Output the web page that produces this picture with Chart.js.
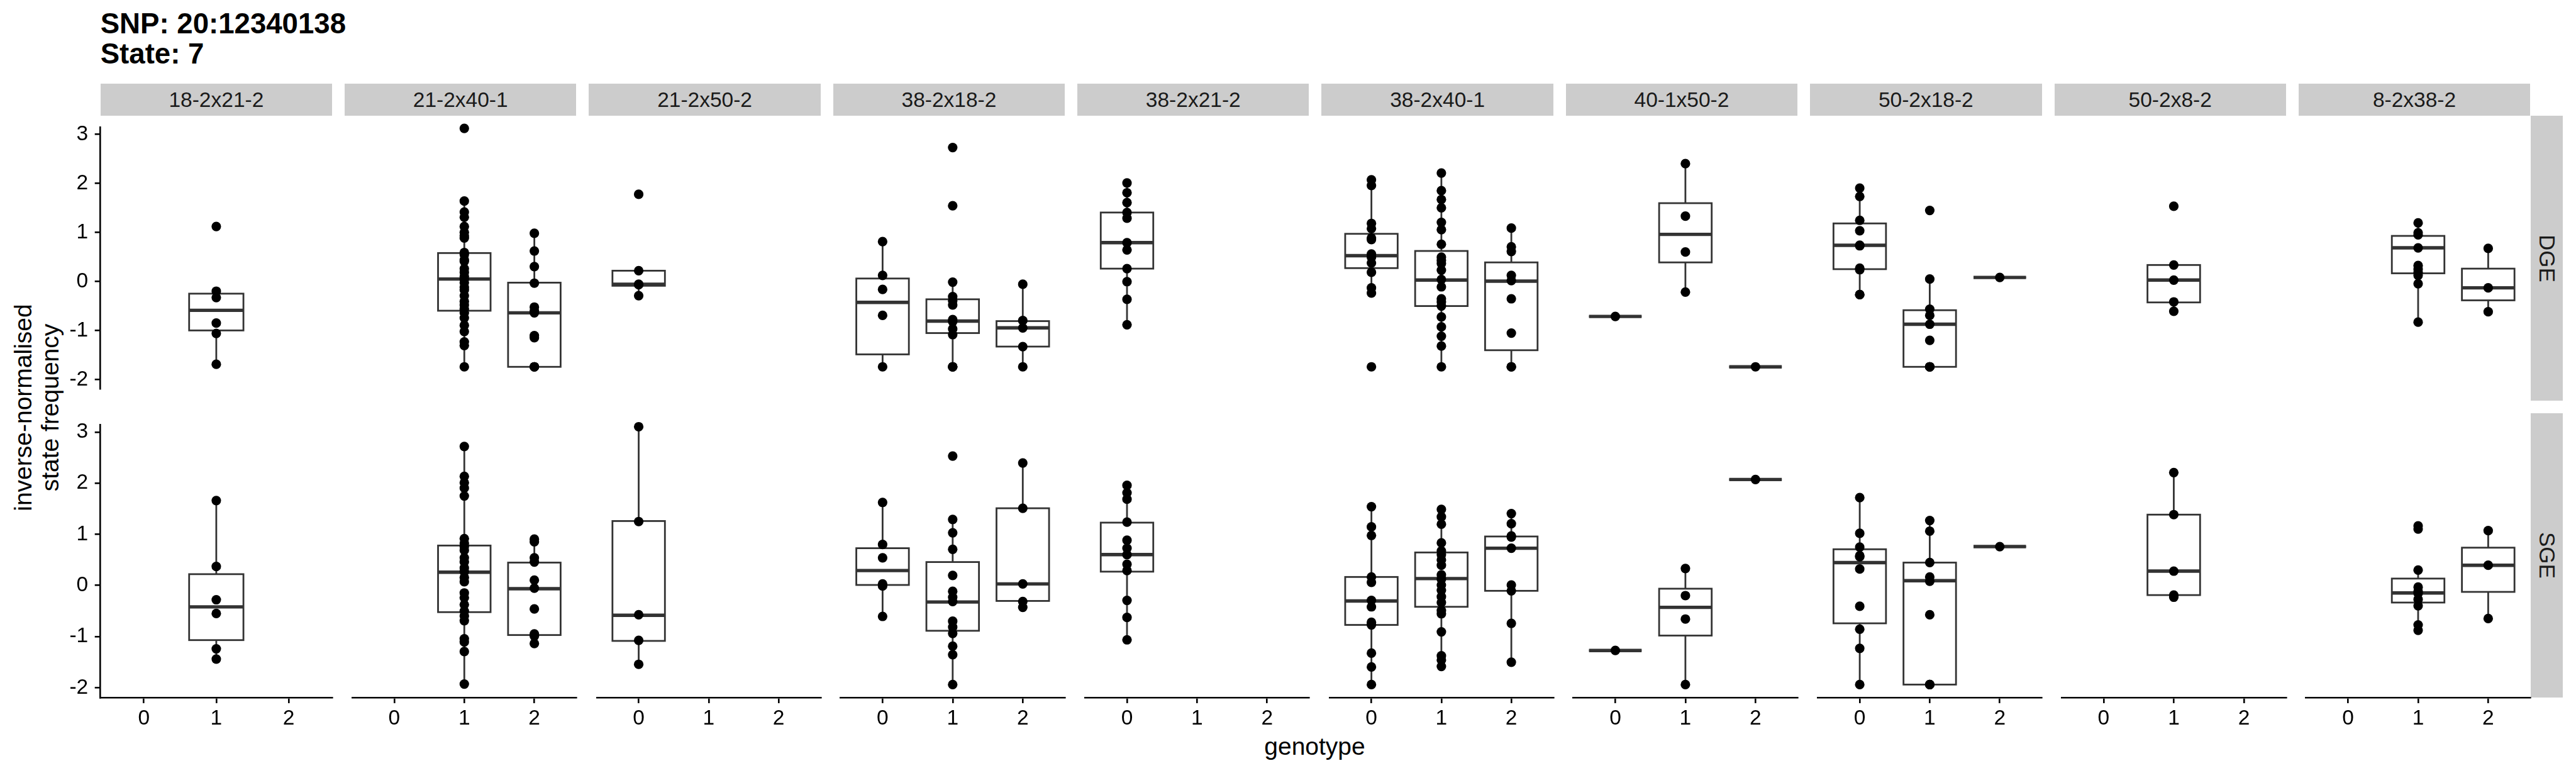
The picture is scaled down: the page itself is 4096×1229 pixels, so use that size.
<!DOCTYPE html>
<html>
<head>
<meta charset="utf-8">
<script src="https://cdn.jsdelivr.net/npm/chart.js@4.4.1/dist/chart.umd.min.js"></script>
<style>
  html, body { margin: 0; padding: 0; background: #fff; }
  #page { position: relative; width: 4096px; height: 1229px; overflow: hidden;
    font-family: "Liberation Sans", Arial, Helvetica, sans-serif; }
  .abs { position: absolute; white-space: nowrap; }
  .title { font-weight: bold; font-size: 45.6px; line-height: 45.6px; color: #000; }
  .strip { background: #cccccc; color: #1a1a1a; font-size: 33.5px; line-height: 33.5px;
    text-align: center; box-sizing: border-box; }
  .vstrip { background: #cccccc; color: #1a1a1a; font-size: 35px;
    display: flex; align-items: center; justify-content: center; }
  .vstrip span { writing-mode: vertical-rl; }
  .axtitle { font-size: 39px; color: #000; text-align: center; }
  canvas { position: absolute; }
</style>
</head>
<body>
<div id="page"></div>
<script>
"use strict";

// Facettes : croisements (colonnes) et type de mesure (lignes).
const CROSSES = ["18-2x21-2", "21-2x40-1", "21-2x50-2", "38-2x18-2", "38-2x21-2",
  "38-2x40-1", "40-1x50-2", "50-2x18-2", "50-2x8-2", "8-2x38-2"];
const ASSAYS = ["DGE", "SGE"];
const GENOTYPES = ["0", "1", "2"];
const X_TICKS = [0, 1, 2];
const Y_TICKS = [-2, -1, 0, 1, 2, 3];
const Y_MIN = -2.193, Y_MAX = 3.139;

// Points par croisement : [génotype 0, génotype 1, génotype 2].
const DGE_POINTS = [
  [[], [1.12, -0.20, -0.33, -0.85, -1.06, -1.69], []],
  [[], [2.90, 1.50, 1.29, 1.19, 1.01, 0.90, 0.83, 0.79, 0.51, 0.47, 0.37, 0.34, 0.20, 0.13, 0.05,
        0.00, -0.07, -0.16, -0.21, -0.32, -0.43, -0.50, -0.58, -0.65, -0.75, -0.89, -1.01, -1.21, -1.28, -1.69],
   [0.88, 0.54, 0.24, -0.08, -0.54, -0.61, -0.65, -1.09, -1.13, -1.69, -1.69, -1.69]],
  [[1.63, 0.16, -0.10, -0.11, -0.32], [], []],
  [[0.72, 0.07, -0.20, -0.70, -1.69],
   [2.53, 1.41, -0.06, -0.34, -0.42, -0.50, -0.78, -0.82, -0.96, -1.07, -1.69, -1.69, -1.69],
   [-0.10, -0.80, -0.94, -1.30, -1.69]],
  [[1.85, 1.66, 1.47, 1.28, 1.17, 0.70, 0.56, 0.20, -0.05, -0.39, -0.88], [], []],
  [[1.91, 1.80, 1.07, 0.97, 0.79, 0.76, 0.48, 0.42, 0.31, 0.13, -0.17, -0.27, -1.69],
   [2.04, 1.70, 1.53, 1.37, 1.09, 0.95, 0.67, 0.42, 0.36, 0.30, 0.17, -0.01, -0.15, -0.38, -0.44,
    -0.52, -0.73, -0.92, -1.10, -1.29, -1.69],
   [0.98, 0.62, 0.53, 0.07, -0.03, -0.38, -1.04, -1.69, -1.69]],
  [[-0.72], [2.22, 1.21, 0.52, -0.25], [-1.69]],
  [[1.75, 1.59, 1.13, 0.93, 0.65, 0.64, 0.21, 0.18, -0.30, -0.30],
   [1.32, 0.00, -0.58, -0.70, -0.87, -1.18, -1.69, -1.69, -1.69, -1.69],
   [0.03]],
  [[], [1.40, 0.27, -0.02, -0.44, -0.62], []],
  [[], [1.08, 0.89, 0.85, 0.60, 0.26, 0.19, 0.13, 0.07, -0.09, -0.83], [0.59, -0.17, -0.63]],
];

const SGE_POINTS = [
  [[], [1.66, 0.37, -0.28, -0.55, -1.24, -1.44], []],
  [[], [2.52, 1.96, 1.84, 1.74, 1.59, 0.79, 0.70, 0.64, 0.57, 0.43, 0.35, 0.24, 0.17, 0.06, -0.02,
        -0.23, -0.32, -0.45, -0.57, -0.66, -0.75, -1.09, -1.15, -1.33, -1.94],
   [0.78, 0.73, 0.43, 0.35, 0.01, -0.14, -0.53, -1.00, -1.04, -1.18]],
  [[2.89, 1.11, -0.64, -1.12, -1.57], [], []],
  [[1.47, 0.68, 0.43, -0.06, -0.10, -0.67],
   [2.34, 1.15, 0.90, 0.59, 0.10, -0.20, -0.31, -0.39, -0.76, -0.87, -0.99, -1.23, -1.39, -1.95],
   [2.21, 1.36, -0.06, -0.39, -0.50]],
  [[1.79, 1.65, 1.53, 1.10, 0.76, 0.61, 0.49, 0.31, 0.19, -0.37, -0.69, -1.11], [], []],
  [[1.39, 1.01, 0.85, 0.07, -0.03, -0.37, -0.49, -0.78, -0.83, -1.36, -1.62, -1.95],
   [1.34, 1.20, 1.06, 0.71, 0.56, 0.49, 0.39, 0.29, 0.11, 0.03, -0.08, -0.18, -0.30, -0.41, -0.56,
    -0.62, -0.96, -1.41, -1.49, -1.61],
   [1.26, 1.07, 0.84, 0.82, 0.61, -0.08, -0.19, -0.80, -1.53]],
  [[-1.31], [0.23, -0.28, -0.72, -1.95], [1.90]],
  [[1.56, 0.89, 0.63, 0.47, 0.45, 0.22, -0.48, -0.91, -1.27, -1.95],
   [1.13, 0.93, 0.34, 0.07, -0.01, -0.64, -1.95, -1.95, -1.95],
   [0.64]],
  [[], [2.03, 1.24, 0.18, -0.27, -0.31], []],
  [[], [1.03, 0.97, 0.20, -0.12, -0.20, -0.24, -0.35, -0.47, -0.83, -0.93], [0.94, 0.29, -0.71]],
];

// Boîtes à moustaches : [moustache basse, Q1, médiane, Q3, moustache haute].
const DGE_BOXES = [
  [null, [-1.69, -1.00, -0.59, -0.25, -0.20], null],
  [null, [-1.69, -0.61, 0.00, 0.50, 1.50], [-1.69, -1.69, -0.65, -0.07, 0.88]],
  [[-0.32, -0.13, -0.10, 0.16, 0.16], null, null],
  [[-1.69, -1.45, -0.45, 0.01, 0.72], [-1.69, -1.04, -0.81, -0.39, -0.06], [-1.69, -1.30, -0.94, -0.81, -0.10]],
  [[-0.88, 0.20, 0.70, 1.28, 1.85], null, null],
  [[-0.27, 0.21, 0.45, 0.87, 1.91], [-1.69, -0.52, -0.02, 0.54, 2.04], [-1.69, -1.37, -0.04, 0.32, 0.98]],
  [[-0.72, -0.72, -0.72, -0.72, -0.72], [-0.25, 0.32, 0.86, 1.46, 2.22], [-1.69, -1.69, -1.69, -1.69, -1.69]],
  [[-0.30, 0.19, 0.65, 1.07, 1.75], [-1.69, -1.69, -0.87, -0.60, 0.00], [0.03, 0.03, 0.03, 0.03, 0.03]],
  [null, [-0.62, -0.45, -0.02, 0.27, 0.27], null],
  [null, [-0.83, 0.11, 0.60, 0.83, 1.08], [-0.63, -0.41, -0.17, 0.20, 0.59]],
];

const SGE_BOXES = [
  [null, [-1.44, -1.07, -0.42, 0.22, 1.66], null],
  [null, [-1.94, -0.59, 0.16, 0.66, 2.52], [-1.18, -1.02, -0.15, 0.34, 0.78]],
  [[-1.57, -1.13, -0.65, 1.12, 2.89], null, null],
  [[-0.67, -0.08, 0.19, 0.61, 1.47], [-1.95, -0.94, -0.40, 0.35, 1.15], [-0.50, -0.38, -0.06, 1.36, 2.21]],
  [[-1.11, 0.17, 0.49, 1.09, 1.79], null, null],
  [[-1.95, -0.83, -0.38, 0.07, 1.39], [-1.61, -0.49, 0.04, 0.53, 1.34], [-1.53, -0.19, 0.61, 0.83, 1.26]],
  [[-1.31, -1.31, -1.31, -1.31, -1.31], [-1.95, -1.03, -0.50, -0.15, 0.23], [1.90, 1.90, 1.90, 1.90, 1.90]],
  [[-1.95, -0.80, 0.34, 0.59, 1.56], [-1.95, -1.95, 0.00, 0.34, 1.13], [0.64, 0.64, 0.64, 0.64, 0.64]],
  [null, [-0.31, -0.27, 0.18, 1.24, 2.03], null],
  [null, [-0.93, -0.41, -0.23, 0.04, 0.20], [-0.71, -0.21, 0.29, 0.62, 0.94]],
];

// Mise en page (px de sortie).
const PANEL_X0 = 159.7, PANEL_W = 368.4, PANEL_STEP = 388.35;
const ROW_TOP = [184.3, 657.4], ROW_H = [452.6, 451.6];
const STRIP_TOP = 132.6, STRIP_H = 51.7;
const RSTRIP_X = 4024.3, RSTRIP_W = 51.2;
const BOTTOM_H = 60, MARGIN = 12;
const BOX_WIDTH = 0.75;
const BOX_COLOR = "#333333";

Chart.defaults.font.family = '"Liberation Sans", Arial, Helvetica, sans-serif';

const page = document.getElementById("page");

function addDiv(cls, style, html) {
  const d = document.createElement("div");
  d.className = "abs " + cls;
  Object.assign(d.style, style);
  d.innerHTML = html;
  page.appendChild(d);
  return d;
}

// Titre
addDiv("title", { left: "159.7px", top: "14.9px" }, "SNP: 20:12340138");
addDiv("title", { left: "159.7px", top: "63.4px" }, "State: 7");

// Bandeaux du haut
CROSSES.forEach((name, c) => {
  addDiv("strip", {
    left: (PANEL_X0 + c * PANEL_STEP) + "px", top: STRIP_TOP + "px",
    width: PANEL_W + "px", height: STRIP_H + "px", paddingTop: "9.8px",
  }, name);
});

// Bandeaux de droite
ASSAYS.forEach((name, r) => {
  addDiv("vstrip", {
    left: RSTRIP_X + "px", top: ROW_TOP[r] + "px",
    width: RSTRIP_W + "px", height: ROW_H[r] + "px",
  }, "<span>" + name + "</span>");
});

// Titres des axes
addDiv("axtitle", {
  left: "-292.5px", top: "605px", width: "700px", height: "86px",
  lineHeight: "43px", transform: "rotate(-90deg)", transformOrigin: "50% 50%",
}, "inverse-normalised<br>state frequency");
addDiv("axtitle", { left: "1890.5px", top: "1167px", width: "400px", lineHeight: "39px" }, "genotype");

// Boîtes dessinées avec les échelles du graphique.
function boxPlugin(boxes) {
  return {
    id: "boxes",
    beforeDatasetsDraw(chart) {
      const { ctx, scales: { x, y } } = chart;
      ctx.save();
      ctx.strokeStyle = BOX_COLOR;
      ctx.lineCap = "butt";
      boxes.forEach((b, g) => {
        if (!b) return;
        const [lo, q1, med, q3, hi] = b;
        const cx = x.getPixelForValue(g);
        const half = x.getPixelForValue(g + BOX_WIDTH / 2) - cx;
        const yTop = y.getPixelForValue(q3), yBot = y.getPixelForValue(q1);
        ctx.lineWidth = 2.8;
        ctx.beginPath();
        ctx.moveTo(cx, yTop); ctx.lineTo(cx, y.getPixelForValue(hi));
        ctx.moveTo(cx, yBot); ctx.lineTo(cx, y.getPixelForValue(lo));
        ctx.stroke();
        ctx.fillStyle = "#fff";
        ctx.fillRect(cx - half, yTop, 2 * half, yBot - yTop);
        ctx.strokeRect(cx - half, yTop, 2 * half, yBot - yTop);
        const ym = y.getPixelForValue(med);
        ctx.lineWidth = 5.4;
        ctx.beginPath();
        ctx.moveTo(cx - half, ym); ctx.lineTo(cx + half, ym);
        ctx.stroke();
      });
      ctx.restore();
    },
  };
}

function makePanel(c, r, points, boxes) {
  const plotLeft = PANEL_X0 + c * PANEL_STEP;
  const plotTop = ROW_TOP[r];
  const canvasLeft = c === 0 ? 0 : Math.round(plotLeft - MARGIN);
  const canvasTop = Math.round(plotTop - MARGIN);
  const padL = plotLeft - canvasLeft;
  const padT = plotTop - canvasTop;
  const width = Math.ceil(padL + PANEL_W + MARGIN);
  const padR = width - padL - PANEL_W;
  const padB = r === 1 ? BOTTOM_H : MARGIN;
  const height = Math.ceil(padT + ROW_H[r] + padB);
  const padBottom = height - padT - ROW_H[r];

  const cv = document.createElement("canvas");
  cv.width = width; cv.height = height;
  cv.style.left = canvasLeft + "px"; cv.style.top = canvasTop + "px";
  cv.style.width = width + "px"; cv.style.height = height + "px";
  page.appendChild(cv);

  const data = [];
  points.forEach((vals, g) => vals.forEach((v) => data.push({ x: g, y: v })));

  const axisLine = { display: true, color: "#000", width: 2.6 };
  const tickGrid = { display: true, drawOnChartArea: false, drawTicks: true,
    tickLength: 9, color: "#000", lineWidth: 2.6 };

  new Chart(cv, {
    type: "scatter",
    data: { datasets: [{
      data,
      pointRadius: 7.6,
      pointBackgroundColor: "#000",
      pointBorderWidth: 0,
      clip: false,
    }] },
    options: {
      responsive: false,
      animation: false,
      events: [],
      layout: { padding: {
        left: c === 0 ? 0 : padL, top: padT, right: padR,
        bottom: r === 1 ? 0 : padBottom,
      } },
      plugins: { legend: { display: false }, tooltip: { enabled: false } },
      scales: {
        x: {
          type: "linear", position: "bottom", min: -0.6, max: 2.6,
          display: r === 1,
          afterBuildTicks: (ax) => { ax.ticks = X_TICKS.map((v) => ({ value: v })); },
          afterFit: (ax) => { ax.height = padBottom; },
          ticks: { callback: (v) => GENOTYPES[v], color: "#000", padding: 5,
            font: { size: 33.5 }, maxRotation: 0 },
          grid: tickGrid,
          border: axisLine,
        },
        y: {
          type: "linear", position: "left", min: Y_MIN, max: Y_MAX,
          display: c === 0,
          afterBuildTicks: (ax) => { ax.ticks = Y_TICKS.map((v) => ({ value: v })); },
          afterFit: (ax) => { ax.width = padL; },
          ticks: { callback: (v) => String(v), color: "#000", padding: 10.5,
            font: { size: 33.5 } },
          grid: tickGrid,
          border: axisLine,
        },
      },
    },
    plugins: [boxPlugin(boxes)],
  });
}

CROSSES.forEach((_, c) => {
  makePanel(c, 0, DGE_POINTS[c], DGE_BOXES[c]);
  makePanel(c, 1, SGE_POINTS[c], SGE_BOXES[c]);
});
</script>
</body>
</html>
